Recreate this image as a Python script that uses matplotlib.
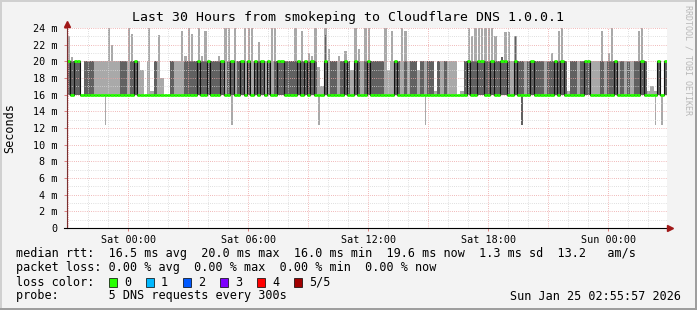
import numpy as np
import matplotlib
matplotlib.use("Agg")
import matplotlib.pyplot as plt
from matplotlib.patches import Rectangle
from matplotlib.lines import Line2D

plt.rcParams['font.family'] = ['DejaVu Sans Mono']

# ---- data: one value per 10 min column, 30 hours (ms) ----
# top of the light smoke (max ping)
hi = [23, 20.5, 20, 20, 16, 20, 20, 20, 20, 20,
      20, 20, 24.5, 22, 20, 20, 20, 20, 24.5, 23.3,
      20, 20, 19, 16, 24.5, 16.5, 20, 23.2, 18, 16,
      16, 20, 20.3, 20.3, 23.6, 20.7, 24.5, 23.3, 20, 24.5,
      20.7, 23.6, 20, 20, 20, 20.7, 20, 24.5, 24.5, 20,
      24.5, 20, 20, 24.5, 24.5, 24.5, 20, 22.3, 20, 20,
      20, 24.5, 24.5, 20, 20, 20, 20.3, 20, 24.5, 20,
      23.6, 20, 21, 20.7, 24, 19.3, 17, 24.5, 21.5, 20,
      20, 20.7, 20, 21.3, 20, 19, 24.5, 21.5, 20, 24.5,
      24.5, 20, 20.3, 20.1, 20, 24.5, 19, 23.6, 20, 20,
      24.5, 23.6, 20.3, 20, 20, 19, 20, 20, 20, 20,
      16.5, 20, 20, 20, 20, 20, 20, 16, 16.5, 20,
      24.5, 23.1, 24.5, 24.5, 24.5, 24.5, 24.5, 24.5, 23.1, 20.3,
      20.5, 23.5, 23.5, 20, 23.1, 20, 20, 20, 20, 20,
      20, 20, 20, 20, 20.3, 21, 20, 23.6, 24.5, 20,
      16.5, 20, 20, 20, 20, 20.3, 20, 20, 20, 20,
      23.6, 20, 21, 24.5, 20, 20, 20, 20, 20, 20,
      20, 23.6, 24.5, 20, 16.5, 17, 16.5, 20, 16, 20]

# top of the dark smoke
dk = [20, 20, 20, 20, 16, 20, 20, 20, 16, 16,
      16, 16, 16, 16, 16, 16, 20, 20, 16, 20,
      20, 16, 16, 16, 16, 16, 20, 16, 16, 16,
      16, 20, 16, 16, 16, 20, 20, 20, 20, 20,
      20, 20, 20, 20, 20, 20, 20, 16, 20, 20,
      16, 20, 20, 16, 20, 16, 20, 20, 20, 16,
      20, 16, 20, 20, 20, 20, 20, 20, 20, 20,
      20, 20, 20, 20, 20, 16, 16, 23.2, 16, 20,
      20, 16, 20, 20, 20, 16, 20, 20, 16, 20,
      20, 20, 20, 20, 20, 16, 16, 16, 20, 20,
      16, 20, 16, 20, 20, 16, 20, 16, 20, 20,
      16, 20, 16, 20, 16, 16, 16, 16, 16, 20,
      20, 20, 20, 20, 20, 20, 20, 20, 20, 20.3,
      20.5, 20, 20, 16, 23.1, 20, 20, 16, 20, 20,
      20, 20, 20, 16, 20, 20, 20, 20, 20, 20,
      16, 20, 20, 16, 20, 20, 20, 16, 16, 16,
      20, 16, 20, 20, 20, 16, 20, 16, 20, 16,
      20, 20, 20, 20, 16, 16, 16, 20, 16, 20]

# median rtt
md = [20, 16, 20, 20, 16, 16, 16, 16, 16, 16,
      16, 16, 16, 16, 16, 16, 16, 16, 16, 16,
      20, 16, 16, 16, 16, 16, 16, 16, 16, 16,
      16, 16, 16, 16, 16, 16, 16, 16, 16, 20,
      16, 16, 20, 16, 16, 16, 20, 16, 16, 20,
      16, 16, 20, 16, 20, 16, 20, 16, 20, 16,
      20, 16, 16, 20, 20, 16, 16, 16, 16, 20,
      16, 20, 16, 20, 16, 16, 16, 20, 16, 16,
      16, 16, 16, 20, 16, 16, 20, 16, 16, 16,
      20, 16, 16, 16, 16, 16, 16, 16, 20, 16,
      16, 16, 16, 16, 16, 16, 16, 16, 16, 16,
      16, 16, 16, 16, 16, 16, 16, 16, 16, 16,
      20, 16, 16, 20, 20, 16, 16, 20, 16, 16,
      20, 20, 16, 16, 20, 16, 16, 16, 16, 20,
      16, 16, 16, 16, 16, 16, 20, 16, 20, 16,
      16, 16, 16, 16, 16, 20, 20, 16, 16, 16,
      16, 16, 16, 16, 20, 16, 16, 16, 16, 16,
      16, 16, 20, 16, 16, 16, 16, 20, 16, 20]

# min ping where it dropped below the median band
dip_cols = [11, 49, 75, 107, 136, 176, 178]
dip_vals = [12.4, 12.4, 12.4, 12.4, 12.4, 12.4, 12.4]
dip_dark = [False, False, False, False, True, False, False]

rtt_stats = [16.5, 20.0, 16.0, 19.6]   # avg max min now
rtt_sd = 1.3
rtt_am = 13.2
loss_stats = [0.0, 0.0, 0.0, 0.0]
loss_labels = ['0', '1', '2', '3', '4', '5/5']
loss_colors = ['#26ff00', '#00b8ff', '#0059ff', '#7e00ff', '#ff0000', '#a10000']
xtick_hours = [0, 6, 12, 18, 24]
xtick_labels = ['Sat 00:00', 'Sat 06:00', 'Sat 12:00', 'Sat 18:00', 'Sun 00:00']
title = 'Last 30 Hours from smokeping to Cloudflare DNS 1.0.0.1'
stamp = 'Sun Jan 25 02:55:57 2026'

# ---- figure ----
W, H = 697, 310
fig = plt.figure(figsize=(W / 100, H / 100), dpi=100, facecolor='#f3f3f3')


def fx(x):
    return x / W


def fy(y):
    return 1 - y / H


ax = fig.add_axes([fx(67), fy(228), 600 / W, 200 / H])
ax.set_facecolor('white')

t0 = -3.0675          # Fri 20:55:57 in hours from Sat 00:00
step = 1 / 6
n = len(hi)
x = t0 + np.arange(n) * step
hi = np.array(hi)
dk = np.array(dk)
md = np.array(md)

LIGHT = '#a9a9a9'
DARK = '#616161'

# smoke: body up to 20 ms full width, single outliers above it as thinner spikes
body = np.minimum(hi, 20)
ax.bar(x, body - 16, bottom=16, width=step, align='edge', color=LIGHT, lw=0, zorder=2)
spk = hi > 20.4
ax.bar(x[spk] + step * 0.15, hi[spk] - 16, bottom=16, width=step * 0.7, align='edge',
       color=LIGHT, lw=0, zorder=2)
dbody = np.minimum(dk, 20)
ax.bar(x, dbody - 16, bottom=16, width=step, align='edge', color=DARK, lw=0, zorder=3)
dspk = dk > 20.4
ax.bar(x[dspk] + step * 0.3, dk[dspk] - 16, bottom=16, width=step * 0.35, align='edge',
       color=DARK, lw=0, zorder=3)
for c, v, d in zip(dip_cols, dip_vals, dip_dark):
    ax.bar(x[c] + step * 0.3, v - 16, bottom=16, width=step * 0.45, align='edge',
           color=DARK if d else LIGHT, lw=0, zorder=3)

ax.set_xlim(t0, t0 + 30)
ax.set_ylim(0, 24)

# grid (rrdtool draws it over the graph)
for h in range(-3, 27):
    gc = '#eca4a4' if h % 3 == 0 else '#d6d6d6'
    ax.axvline(h, color=gc, lw=0.72, dashes=(0.72, 1.44), zorder=4)
for v in range(1, 25):
    gc = '#eca4a4' if v % 2 == 0 else '#d6d6d6'
    ax.axhline(v, color=gc, lw=0.72, dashes=(0.72, 1.44), zorder=4)

# median: black line with loss colored band on top
edges = np.append(x, x[-1] + step)
ax.step(edges, np.append(md, md[-1]), where='post', color='#111111', lw=0.8, zorder=5)
ax.hlines(md, x, x + step, color=loss_colors[0], lw=2.0, zorder=6)

ax.set_yticks(range(0, 25, 2))
ax.set_yticklabels(['0'] + ['%d m' % v for v in range(2, 25, 2)])
ax.set_xticks(xtick_hours)
ax.set_xticklabels(xtick_labels)
ax.tick_params(axis='y', length=2, width=0.7, color='#e08080', pad=5, labelsize=7.3)
ax.tick_params(axis='x', length=2, width=0.7, color='#e08080', pad=3, labelsize=7.3)
for s in ax.spines.values():
    s.set_visible(False)

# axes with arrows
fig.add_artist(Line2D([fx(67), fx(67)], [fy(228), fy(24)], color='#7a3030', lw=0.8))
fig.add_artist(Line2D([fx(64), fx(669)], [fy(228), fy(228)], color='black', lw=0.8))
fig.add_artist(Line2D([fx(67)], [fy(23.5)], marker='^', ms=5, color='#a01818', lw=0))
fig.add_artist(Line2D([fx(670)], [fy(228)], marker='>', ms=5, color='#a01818', lw=0))

# texts
fig.text(fx(348), fy(18), title, ha='center', va='center', fontsize=9.5)
fig.text(fx(10), fy(128), 'Seconds', rotation=90, ha='center', va='center', fontsize=8.5)
fig.text(fx(688), fy(60), 'RRDTOOL / TOBI OETIKER', rotation=270, ha='center',
         va='center', fontsize=6, color='#b8b8b8')

fs = 8.5
line1 = ('median rtt:  %.1f ms avg  %.1f ms max  %.1f ms min  %.1f ms now  '
         '%.1f ms sd  %.1f   am/s' % (rtt_stats[0], rtt_stats[1], rtt_stats[2],
                                     rtt_stats[3], rtt_sd, rtt_am))
line2 = ('packet loss: %.2f %% avg  %.2f %% max  %.2f %% min  %.2f %% now'
         % tuple(loss_stats))
fig.text(fx(16), fy(254), line1, ha='left', va='center', fontsize=fs)
fig.text(fx(16), fy(268), line2, ha='left', va='center', fontsize=fs)
fig.text(fx(16), fy(282), 'loss color:', ha='left', va='center', fontsize=fs)
for i, (lab, col) in enumerate(zip(loss_labels, loss_colors)):
    bx = 109 + 37 * i
    fig.add_artist(Rectangle((fx(bx), fy(287)), 8 / W, 9 / H, facecolor=col,
                             edgecolor='black', lw=0.5))
    fig.text(fx(bx + 15), fy(282), lab, ha='left', va='center', fontsize=fs)
fig.text(fx(16), fy(296), 'probe:       5 DNS requests every 300s', ha='left',
         va='center', fontsize=fs)
fig.text(fx(681), fy(296), stamp, ha='right', va='center', fontsize=fs)

# 3d-ish border
fig.add_artist(Rectangle((0, 0), 2 / W, 1, color='#d0d0d0', lw=0))
fig.add_artist(Rectangle((0, 1 - 2 / H), 1, 2 / H, color='#d0d0d0', lw=0))
fig.add_artist(Rectangle((1 - 2 / W, 0), 2 / W, 1, color='#9e9e9e', lw=0))
fig.add_artist(Rectangle((0, 0), 1, 2 / H, color='#9e9e9e', lw=0))

fig.savefig('out.png', dpi=100, facecolor=fig.get_facecolor())
